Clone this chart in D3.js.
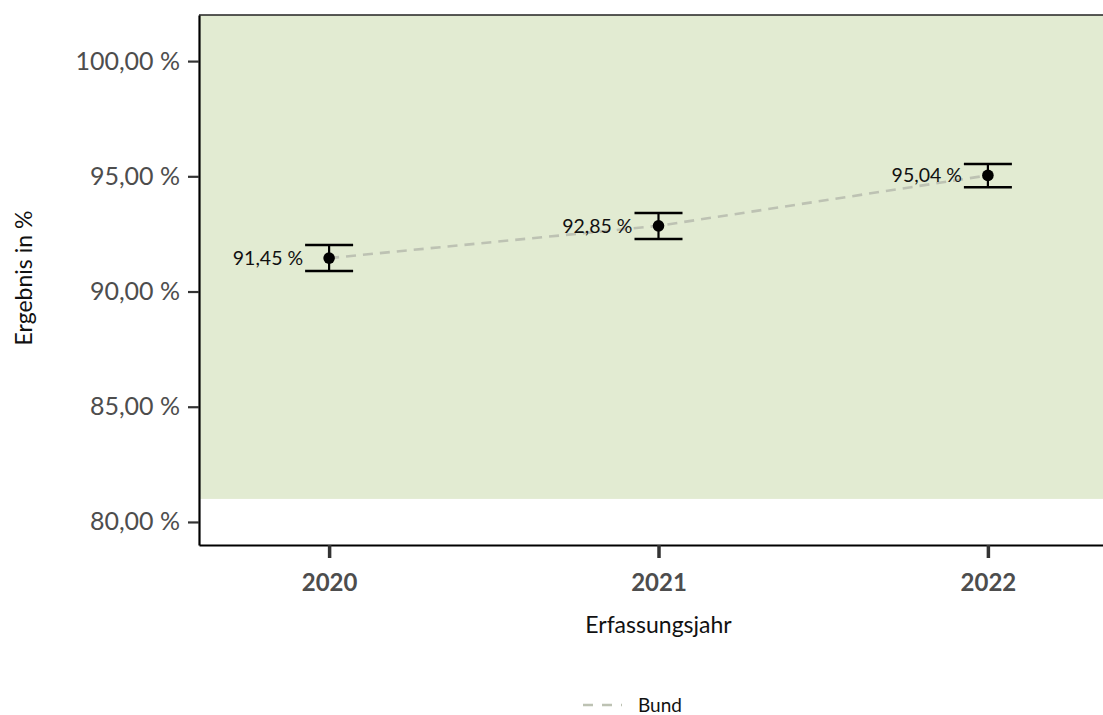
<!DOCTYPE html>
<html><head><meta charset="utf-8">
<script src="https://cdn.jsdelivr.net/npm/d3@7"></script>
<style>body{margin:0;background:#fff}svg{display:block}text{font-family:Lato,"Open Sans",sans-serif}</style>
</head><body><svg id="c" width="1103" height="715"></svg>
<script>
const years = [2020, 2021, 2022];
const values = [91.45, 92.85, 95.04];
const ciLow = [90.89, 92.28, 94.53];
const ciHigh = [92.02, 93.41, 95.53];
const yTicks = [80, 85, 90, 95, 100];
const bandFrom = 81;
const seriesName = "Bund";

(function () {
const svg = d3.select("#c");
const pLeft = 199, pTop = 15, pBottom = 545, pRight = 1118;
const x = d3.scaleLinear().domain([2019.605, 2022.395]).range([pLeft, pRight]);
const y = d3.scaleLinear().domain([79, 102]).range([pBottom, pTop]);
const fmt = v => d3.format(".2f")(v).replace(".", ",") + " %";

// band
svg.append("rect").attr("x", pLeft).attr("y", y(102)).attr("width", pRight - pLeft)
  .attr("height", y(bandFrom) - y(102)).attr("fill", "#e2ebd2");

// top border
svg.append("line").attr("x1", pLeft).attr("x2", pRight).attr("y1", pTop).attr("y2", pTop)
  .attr("stroke", "#222").attr("stroke-width", 1.5);

// y axis
const ya = svg.append("g").attr("transform", `translate(${pLeft},0)`)
  .call(d3.axisLeft(y).tickValues(yTicks).tickFormat(fmt).tickSize(11).tickPadding(8).tickSizeOuter(0));
ya.select(".domain").attr("stroke", "#000").attr("stroke-width", 2.2);
ya.selectAll(".tick line").attr("stroke", "#333").attr("stroke-width", 2.2);
ya.selectAll(".tick text").attr("fill", "#4d4d4d").attr("font-size", 25);

// x axis
const xa = svg.append("g").attr("transform", `translate(0,${pBottom})`)
  .call(d3.axisBottom(x).tickValues(years).tickFormat(d3.format("d")).tickSize(13).tickPadding(16).tickSizeOuter(0));
xa.select(".domain").attr("stroke", "#000").attr("stroke-width", 2.2);
xa.selectAll(".tick line").attr("stroke", "#333").attr("stroke-width", 3.5);
xa.selectAll(".tick text").attr("fill", "#4d4d4d").attr("font-size", 24).attr("font-weight", "bold");

// line
const data = years.map((yr, i) => ({yr, v: values[i], lo: ciLow[i], hi: ciHigh[i]}));
svg.append("path").datum(data)
  .attr("d", d3.line().x(d => x(d.yr)).y(d => y(d.v)))
  .attr("fill", "none").attr("stroke", "#bdc2b3").attr("stroke-width", 2.6)
  .attr("stroke-dasharray", "10,7");

// error bars
const cw = 24;
const g = svg.append("g").selectAll("g").data(data).join("g");
g.append("line").attr("x1", d => x(d.yr)).attr("x2", d => x(d.yr))
  .attr("y1", d => y(d.lo)).attr("y2", d => y(d.hi)).attr("stroke", "#000").attr("stroke-width", 2.2);
g.append("line").attr("x1", d => x(d.yr) - cw).attr("x2", d => x(d.yr) + cw)
  .attr("y1", d => y(d.lo)).attr("y2", d => y(d.lo)).attr("stroke", "#000").attr("stroke-width", 2.5);
g.append("line").attr("x1", d => x(d.yr) - cw).attr("x2", d => x(d.yr) + cw)
  .attr("y1", d => y(d.hi)).attr("y2", d => y(d.hi)).attr("stroke", "#000").attr("stroke-width", 2.5);
g.append("circle").attr("cx", d => x(d.yr)).attr("cy", d => y(d.v)).attr("r", 5.8).attr("fill", "#000");
g.append("text").attr("x", d => x(d.yr) - cw - 2).attr("y", d => y(d.v)).attr("dy", "0.35em")
  .attr("text-anchor", "end").attr("font-size", 19.5).attr("fill", "#111").text(d => fmt(d.v));

// axis titles
svg.append("text").attr("x", x(2021)).attr("y", 633).attr("text-anchor", "middle")
  .attr("font-size", 23).attr("fill", "#111").text("Erfassungsjahr");
svg.append("text").attr("transform", `translate(32,${(pTop + pBottom) / 2 - 2}) rotate(-90)`)
  .attr("text-anchor", "middle").attr("font-size", 23).attr("fill", "#111").text("Ergebnis in %");

// legend
svg.append("line").attr("x1", 583).attr("x2", 622).attr("y1", 705).attr("y2", 705)
  .attr("stroke", "#bdc2b3").attr("stroke-width", 2.6).attr("stroke-dasharray", "10,9");
svg.append("text").attr("x", 638).attr("y", 705).attr("dy", "0.35em").attr("font-size", 19)
  .attr("fill", "#111").text(seriesName);
})();
</script></body></html>
